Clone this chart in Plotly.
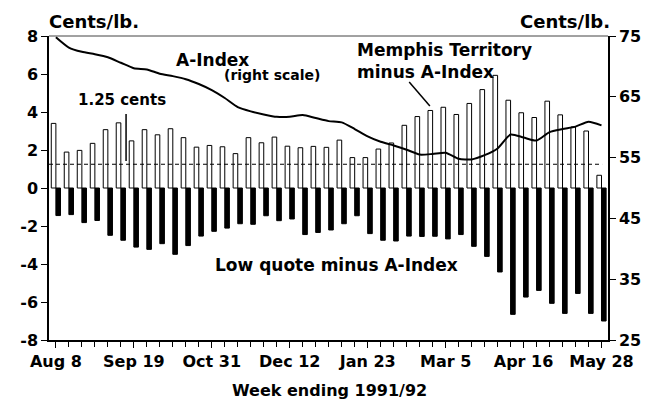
import plotly.graph_objects as go

# ---- data ----
weeks = list(range(43))  # weeks ending Aug 8 1991 ... May 28 1992
tick_weeks = [0, 6, 12, 18, 24, 30, 36, 42]
tick_labels = ["Aug 8", "Sep 19", "Oct 31", "Dec 12", "Jan 23", "Mar 5", "Apr 16", "May 28"]

memphis_minus_a = [3.40, 1.89, 1.98, 2.35, 3.07, 3.43, 2.48, 3.07, 2.80, 3.12,
                   2.65, 2.15, 2.24, 2.17, 1.81, 2.65, 2.38, 2.68, 2.20, 2.12,
                   2.19, 2.14, 2.52, 1.60, 1.60, 2.05, 2.37, 3.30, 3.76, 4.08,
                   4.25, 3.87, 4.45, 5.18, 5.93, 4.62, 3.96, 3.71, 4.57, 3.85,
                   3.21, 3.00, 0.67]

low_minus_a = [-1.45, -1.40, -1.82, -1.71, -2.49, -2.75, -3.11, -3.23, -2.93, -3.49,
               -3.03, -2.53, -2.28, -2.11, -1.88, -1.91, -1.46, -1.72, -1.63, -2.45,
               -2.34, -2.21, -1.88, -1.46, -2.40, -2.75, -2.79, -2.53, -2.55, -2.54,
               -2.68, -2.45, -3.07, -3.60, -4.42, -6.65, -5.74, -5.39, -6.07, -6.60,
               -5.55, -6.60, -7.00]

a_index = [74.8, 73.1, 72.4, 72.0, 71.5, 70.6, 69.7, 69.5, 68.8, 68.4,
           67.9, 67.1, 66.1, 64.8, 63.3, 62.6, 62.1, 61.7, 61.7, 62.0,
           61.5, 61.0, 60.8, 59.7, 58.5, 57.6, 57.0, 56.3, 55.5, 55.6,
           55.8, 54.8, 54.7, 55.4, 56.5, 58.8, 58.3, 57.8, 59.2, 59.7,
           60.1, 60.9, 60.3]

threshold = 1.25
left_ticks = [-8, -6, -4, -2, 0, 2, 4, 6, 8]
right_ticks = [25, 35, 45, 55, 65, 75]

FONT = "DejaVu Sans"

fig = go.Figure()
fig.add_trace(go.Bar(x=weeks, y=memphis_minus_a, name="Memphis Territory minus A-Index",
                     marker=dict(color="white", line=dict(color="black", width=1))))
fig.add_trace(go.Bar(x=weeks, y=low_minus_a, name="Low quote minus A-Index",
                     marker=dict(color="black", line=dict(color="black", width=1))))
fig.add_trace(go.Scatter(x=weeks, y=a_index, yaxis="y2", mode="lines",
                         line=dict(color="black", width=2, shape="spline", smoothing=0.6),
                         name="A-Index"))

# the page body has an 8px margin, so the figure is drawn 8px smaller and offset
fig.update_layout(
    width=645, height=396,
    margin=dict(l=37, r=40, t=28, b=64),
    paper_bgcolor="white", plot_bgcolor="white",
    showlegend=False,
    barmode="group", bargap=0.29, bargroupgap=0,
    font=dict(family=FONT, size=16, color="black", weight="bold"),
    xaxis=dict(range=[-0.53, 42.5], tickmode="array", tickvals=tick_weeks, ticktext=tick_labels,
               ticks="outside", ticklen=6, tickwidth=1, tickcolor="black",
               minor=dict(dtick=1, tick0=0, ticks="outside", ticklen=5, tickwidth=1, tickcolor="black"),
               showline=True, linecolor="black", linewidth=1.5,
               showgrid=False, zeroline=False, tickfont=dict(size=16)),
    yaxis=dict(range=[-8, 8], tickmode="array", tickvals=left_ticks,
               ticktext=[str(v) for v in left_ticks],
               ticks="outside", ticklen=6, tickwidth=1, tickcolor="black",
               showline=True, linecolor="black", linewidth=1.5,
               showgrid=False, zeroline=False, tickfont=dict(size=16)),
    yaxis2=dict(range=[25, 75], overlaying="y", side="right", tickmode="array",
                tickvals=right_ticks, ticks="outside", ticklen=6, tickwidth=1, tickcolor="black",
                showline=True, linecolor="black", linewidth=1.5,
                showgrid=False, zeroline=False, tickfont=dict(size=16)),
)

# helpers: window pixel -> paper fraction (plot area spans x 45..613, y 36..340 in the window)
def px(x):
    return (x - 45) / 568.0

def py(y):
    return (340 - y) / 304.0

shapes = [
    dict(type="line", xref="paper", yref="paper", x0=0, x1=1, y0=1, y1=1,
         line=dict(color="#444", width=1)),
    dict(type="line", xref="paper", yref="y", x0=0.0, x1=px(607), y0=threshold, y1=threshold,
         line=dict(color="black", width=1, dash="4px,3px"), layer="above"),
    dict(type="line", xref="paper", yref="paper", x0=px(123.3), x1=px(123.3), y0=py(114), y1=py(161),
         line=dict(color="black", width=1.5)),
    dict(type="line", xref="paper", yref="paper", x0=px(411), x1=px(432), y0=py(82), y1=py(106),
         line=dict(color="black", width=1.5)),
]
fig.update_layout(shapes=shapes)

ann = [
    dict(text="Cents/lb.", x=px(43), y=py(21.5), xanchor="left", size=18),
    dict(text="Cents/lb.", x=px(617), y=py(21.5), xanchor="right", size=18),
    dict(text="A-Index", x=px(211), y=py(60), xanchor="center", size=17),
    dict(text="(right scale)", x=px(272), y=py(75), xanchor="center", size=14),
    dict(text="1.25 cents", x=px(119), y=py(99.5), xanchor="center", size=15),
    dict(text="Memphis Territory", x=px(356), y=py(50), xanchor="left", size=17),
    dict(text="minus A-Index", x=px(356), y=py(71.5), xanchor="left", size=17),
    dict(text="Low quote minus A-Index", x=px(212), y=py(265), xanchor="left", size=17),
    dict(text="Week ending 1991/92", x=px(330), y=py(390), xanchor="center", size=16),
]
fig.update_layout(annotations=[
    dict(text=a["text"], x=a["x"], y=a["y"], xref="paper", yref="paper",
         xanchor=a["xanchor"], yanchor="middle", showarrow=False,
         font=dict(family=FONT, size=a["size"], color="black", weight="bold"))
    for a in ann
])

fig.write_html("out.html")
